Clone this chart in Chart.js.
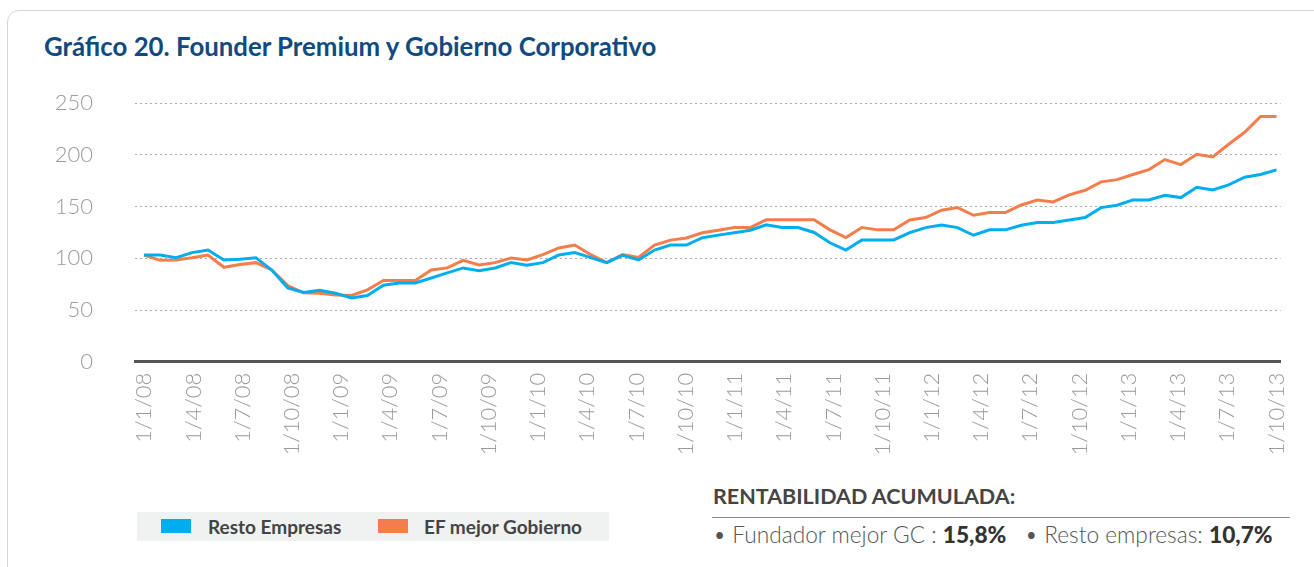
<!DOCTYPE html>
<html lang="es">
<head>
<meta charset="utf-8">
<script src="https://cdn.jsdelivr.net/npm/chart.js@4"></script>
<style>
  body { margin: 0; width: 1314px; height: 567px; background: #fff; overflow: hidden; font-family: Lato, "Noto Sans", sans-serif; position: relative; }
  .tarjeta { position: absolute; left: 7px; top: 10px; width: 1320px; height: 570px; border: 1px solid #d6d6d6; border-radius: 12px; box-sizing: border-box; }
  .titulo { position: absolute; left: 44px; top: 31px; font-size: 25.8px; font-weight: 700; color: #0f4a80; white-space: nowrap; }
  .grafico { position: absolute; left: 0; top: 48px; width: 1314px; height: 432px; }
  .leyenda { position: absolute; left: 137px; top: 512px; width: 472px; height: 29px; background: #f0f1f1; }
  .leyenda span { position: absolute; top: 3px; font-size: 19px; font-weight: 700; color: #444; }
  .leyenda i { position: absolute; top: 7px; width: 30px; height: 14px; }
  .rentabilidad { position: absolute; left: 713px; top: 483px; font-size: 21.5px; font-weight: 700; color: #444; white-space: nowrap; }
  .linea { position: absolute; left: 712px; top: 517px; width: 578px; height: 1px; background: #888; }
  .detalle { position: absolute; left: 713px; top: 521px; font-size: 22.7px; font-weight: 300; color: #555; white-space: nowrap; }
  .detalle b { color: #333; font-weight: 900; }
</style>
</head>
<body>
<div class="tarjeta"></div>
<div class="titulo">Gráfico 20. Founder Premium y Gobierno Corporativo</div>
<div class="grafico"><canvas id="founderChart" width="1314" height="432"></canvas></div>
<div class="leyenda">
  <i style="left:24px;background:#00adef"></i><span style="left:71px">Resto Empresas</span>
  <i style="left:241px;background:#f47e4b"></i><span style="left:287px">EF mejor Gobierno</span>
</div>
<div class="rentabilidad">RENTABILIDAD ACUMULADA:</div>
<div class="linea"></div>
<div class="detalle">• Fundador mejor GC : <b>15,8%</b> &nbsp; • Resto empresas: <b>10,7%</b></div>
<script>
const tickLabels = ["1/1/08", "1/4/08", "1/7/08", "1/10/08", "1/1/09", "1/4/09", "1/7/09", "1/10/09",
  "1/1/10", "1/4/10", "1/7/10", "1/10/10", "1/1/11", "1/4/11", "1/7/11", "1/10/11",
  "1/1/12", "1/4/12", "1/7/12", "1/10/12", "1/1/13", "1/4/13", "1/7/13", "1/10/13"];

const yTicks = [0, 50, 100, 150, 200, 250];

const restoEmpresas = [103.2, 103.2, 100.6, 105.5, 108, 98.4, 99, 100.6, 88.7, 71.4, 67, 69,
  66.2, 61.7, 64, 74, 76.2, 76.2, 81, 85.9, 90.7, 88.1, 90.7, 95.8,
  93.2, 95.8, 103.2, 105.5, 100.6, 95.8, 102.9, 98.4, 108, 112.8, 112.8, 119.9,
  122.4, 124.7, 127.2, 132.4, 129.8, 129.8, 125, 115, 107.9, 117.8, 117.8, 117.8,
  124.9, 129.7, 132.3, 129.7, 122.3, 127.5, 127.5, 132, 134.6, 134.6, 137.1, 139.4,
  149, 151.3, 156.5, 156.5, 161, 158.7, 168.7, 166.1, 171, 178.4, 181, 185.5];

const efMejorGobierno = [103.2, 98, 98.4, 100.6, 103.2, 91.3, 93.9, 95.8, 88.7, 73.6, 66.6, 66.2,
  64.6, 64, 69.5, 78.5, 78.5, 78.5, 88.7, 90.7, 98, 93.6, 95.8, 100.3,
  98.4, 103.5, 110, 112.9, 103.5, 95.8, 103.5, 100.8, 112.8, 117.6, 119.6, 124.7,
  127.2, 129.8, 129.8, 137.2, 137.2, 137.2, 137.2, 127.5, 120, 129.7, 127.5, 127.5,
  137.1, 139.4, 146.5, 149, 141.6, 144.2, 144.2, 151.6, 156.4, 154.5, 161.3, 165.8,
  173.9, 176.1, 181, 185.8, 195.5, 190.6, 200.6, 198, 210.3, 221.9, 237.1, 237.1];

// los puntos van de 1/1/08 a 1/10/13 (eje en meses), no caen justo en cada mes
const mesesTotales = (tickLabels.length - 1) * 3;
const paso = mesesTotales / (restoEmpresas.length - 1);

const puntos = serie => serie.map((v, i) => ({ x: i * paso, y: v }));

const fuenteEje = { family: "Lato", size: 22, weight: 300 };

const ctx = document.getElementById("founderChart");

new Chart(ctx, {
  type: "line",
  data: {
    datasets: [
      {
        label: "Resto Empresas",
        data: puntos(restoEmpresas),
        borderColor: "#00adef",
        borderWidth: 3,
        pointRadius: 0,
        tension: 0
      },
      {
        label: "EF mejor Gobierno",
        data: puntos(efMejorGobierno),
        borderColor: "#f47e4b",
        borderWidth: 3,
        pointRadius: 0,
        tension: 0
      }
    ]
  },
  options: {
    responsive: false,
    animation: false,
    devicePixelRatio: 1,
    layout: { padding: { top: 22, right: 25, left: 0, bottom: 0 } },
    plugins: { legend: { display: false }, tooltip: { enabled: false } },
    scales: {
      x: {
        type: "linear",
        min: -0.56,
        max: mesesTotales + 0.25,
        afterBuildTicks: s => { s.ticks = tickLabels.map((t, k) => ({ value: k * 3 })); },
        afterFit: s => { s.height = 118.3; },
        ticks: {
          autoSkip: false,
          minRotation: 90,
          maxRotation: 90,
          padding: 11,
          color: "#9b9b9b",
          font: fuenteEje,
          callback: v => tickLabels[Math.round(v / 3)]
        },
        grid: { drawOnChartArea: false, drawTicks: false },
        border: { display: true, color: "#555", width: 3 }
      },
      y: {
        min: yTicks[0],
        max: yTicks[yTicks.length - 1],
        afterBuildTicks: s => { s.ticks = yTicks.map(v => ({ value: v })); },
        afterFit: s => { s.width = 135; },
        ticks: { padding: 42, color: "#9b9b9b", font: fuenteEje },
        grid: {
          drawTicks: false,
          lineWidth: 1,
          color: c => (c.tick && c.tick.value === 0 ? "rgba(0,0,0,0)" : "#aaa")
        },
        border: { display: false, dash: [2, 3] }
      }
    }
  }
});
</script>
</body>
</html>
